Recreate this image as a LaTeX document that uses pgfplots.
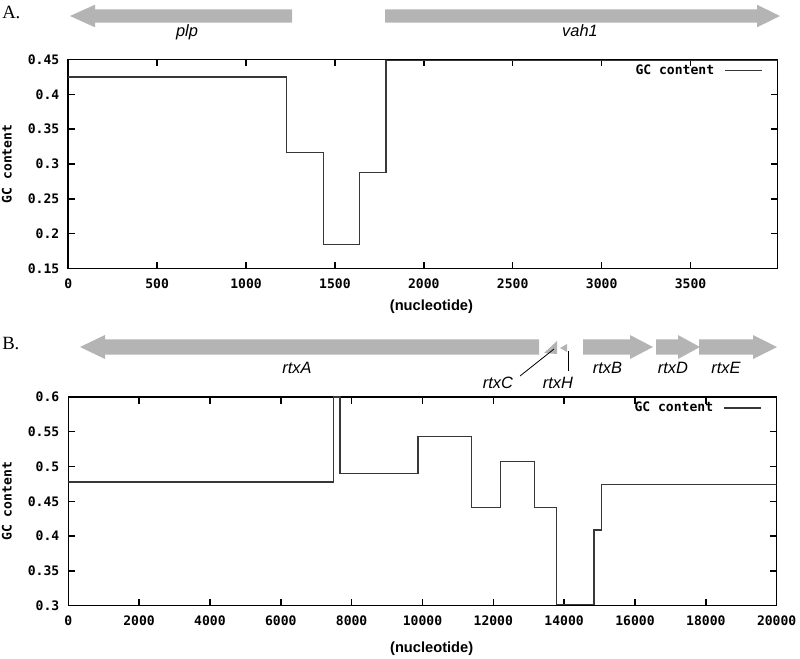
\documentclass[border=0pt]{standalone}
\usepackage{fontspec}
\usepackage{pgfplots}
\pgfplotsset{compat=1.18}
\setmainfont{Liberation Sans}
\newfontfamily\gp{DejaVu Sans Mono}
\newfontfamily\tms{Liberation Serif}
\definecolor{genegray}{RGB}{180,180,180}
\definecolor{gcline}{RGB}{55,55,55}

\pgfplotsset{
  gcaxis/.style={
    scale only axis, anchor=north west,
    axis line style={line width=1.1pt},
    tick align=inside, tick pos=both,
    major tick length=5pt,
    major tick style={black, line width=1.1pt},
    tick label style={font=\gp\bfseries\fontsize{9.8}{11}\selectfont},
    /pgf/number format/assume math mode=true,
    scaled ticks=false,
    xticklabel style={/pgf/number format/1000 sep={}, /pgf/number format/fixed,
      inner sep=0pt, anchor=north, yshift=-7.5pt},
    yticklabel style={/pgf/number format/fixed, /pgf/number format/precision=2,
      inner sep=0pt, anchor=east, xshift=-6.5pt},
    xlabel={(nucleotide)},
    ylabel={GC content},
    xlabel style={font=\bfseries\fontsize{11}{13}\selectfont, anchor=center},
    ylabel style={font=\gp\bfseries\fontsize{9.8}{11}\selectfont, anchor=center},
    legend style={draw=none, fill=none, anchor=east, inner sep=0pt,
      nodes={inner sep=0pt}, column sep=7.5pt,
      font=\gp\bfseries\fontsize{9.8}{11}\selectfont},
    legend plot pos=right,
    legend image code/.code={\draw[#1] (0pt,0pt) -- (27.75pt,0pt);},
  },
}

\begin{document}
\begin{tikzpicture}
\path[use as bounding box] (0,0) rectangle (600pt,-493.5pt);

% panel A
\begin{axis}[gcaxis,
  at={(51.15pt,-44.6pt)}, width=532.1pt, height=156.75pt,
  xmin=0, xmax=3990, ymin=0.15, ymax=0.45,
  xtick={0,500,1000,1500,2000,2500,3000,3500},
  ytick={0.15,0.2,0.25,0.3,0.35,0.4,0.45},
  xlabel style={at={(axis description cs:0.512,-0.184)}},
  ylabel style={at={(axis description cs:-0.0865,0.5)}},
  legend style={at={(axis description cs:0.979,0.947)}},
]
\addplot[const plot, gcline, line width=1pt] coordinates {
  (0,0.425) (1228,0.316) (1434,0.184) (1640,0.288) (1787,0.449) (3990,0.449)
};
\addlegendentry{GC content}
\end{axis}

% panel B
\begin{axis}[gcaxis,
  at={(51.2pt,-297.7pt)}, width=531.3pt, height=156.6pt,
  xmin=0, xmax=20000, ymin=0.3, ymax=0.6,
  xtick={0,2000,4000,6000,8000,10000,12000,14000,16000,18000,20000},
  ytick={0.3,0.35,0.4,0.45,0.5,0.55,0.6},
  xlabel style={at={(axis description cs:0.513,-0.207)}},
  ylabel style={at={(axis description cs:-0.0865,0.5)}},
  legend style={at={(axis description cs:0.979,0.947)}},
]
\addplot[const plot, gcline, line width=1pt] coordinates {
  (0,0.478) (7480,0.6) (7670,0.490) (9870,0.543) (11390,0.441)
  (12210,0.507) (13160,0.441) (13790,0.302) (14840,0.409)
  (15060,0.474) (20000,0.474)
};
\addlegendentry{GC content}
\end{axis}

% gene maps and panel letters
\begin{scope}[x=0.75pt, y=-0.75pt]
\fill[genegray] (70,16) -- (95,4.7) -- (95,9.3) -- (292,9.3) -- (292,22.7)
  -- (95,22.7) -- (95,27.3) -- cycle;
\fill[genegray] (385,9.3) -- (757,9.3) -- (757,4.7) -- (780,16) -- (757,27.3)
  -- (757,22.7) -- (385,22.7) -- cycle;

\fill[genegray] (80,347) -- (105,335) -- (105,339.3) -- (539,339.3) -- (539,354.7)
  -- (105,354.7) -- (105,359) -- cycle;
\fill[genegray] (583,339.3) -- (630,339.3) -- (630,335) -- (653,347) -- (630,359)
  -- (630,354.7) -- (583,354.7) -- cycle;
\fill[genegray] (656,339.3) -- (678,339.3) -- (678,335) -- (700,347) -- (678,359)
  -- (678,354.7) -- (656,354.7) -- cycle;
\fill[genegray] (699,339.3) -- (753,339.3) -- (753,335) -- (777,347) -- (753,359)
  -- (753,354.7) -- (699,354.7) -- cycle;
\fill[genegray] (544,353) -- (557,341) -- (557,354) -- cycle;
\fill[genegray] (560,348) -- (567,344) -- (567,352) -- cycle;
\draw[black, line width=0.6pt] (520,376) -- (554,349);
\draw[black, line width=0.6pt] (568,351) -- (568,371);

\begin{scope}[every node/.style={inner sep=0pt, anchor=base,
    font=\itshape\fontsize{12.3}{14}\selectfont}]
\node at (187,36) {plp};
\node at (580,36) {vah1};
\node at (297,373.3) {rtxA};
\node at (607.5,373.3) {rtxB};
\node at (673,373.3) {rtxD};
\node at (726,373.3) {rtxE};
\node at (498,388.3) {rtxC};
\node at (558,388.3) {rtxH};
\end{scope}
\node[inner sep=0pt, anchor=base west, font=\tms\fontsize{14}{16}\selectfont]
  at (2,18.3) {A.};
\node[inner sep=0pt, anchor=base west, font=\tms\fontsize{14}{16}\selectfont]
  at (2,349) {B.};
\end{scope}
\end{tikzpicture}
\end{document}
